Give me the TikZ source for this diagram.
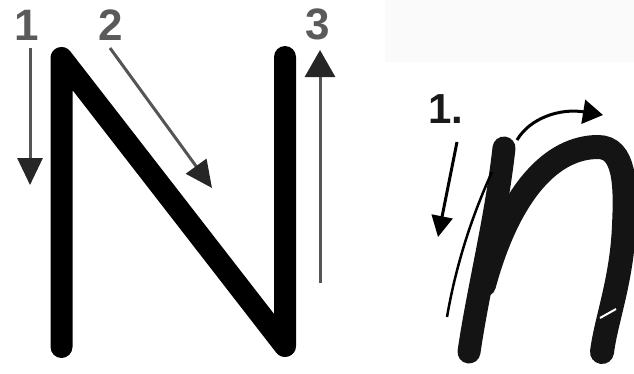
\documentclass[tikz,border=0pt]{standalone}
\usepackage{fontspec}
\setmainfont{Liberation Sans}
\usetikzlibrary{arrows.meta}
\definecolor{lblgray}{HTML}{5A5A5A}
\definecolor{shaftgray}{HTML}{555555}
\definecolor{boxgray}{HTML}{FAFAFA}
\begin{document}
\begin{tikzpicture}[x=1pt,y=-1pt,
  stroke/.style={line width=22pt,line cap=round,line join=round,black},
  guide/.style={line width=3pt,shaftgray,-{Triangle[length=27pt,width=25pt,color=black!85]}},
  cguide/.style={line width=3pt,black,-{Triangle[length=21pt,width=21pt]}},
  numlbl/.style={font=\fontsize{44}{44}\selectfont\bfseries,text=lblgray,anchor=base,inner sep=0pt},
  dotlbl/.style={font=\fontsize{42}{42}\selectfont\bfseries,text=black!90,anchor=base,inner sep=0pt}]
\useasboundingbox (0,0) rectangle (634,373);
\fill[boxgray] (385,0) rectangle (634,62);
% ---- printed N ----
\coordinate (nbl) at (61.5,347);
\coordinate (ntl) at (61.5,58);
\coordinate (nbr) at (285,346);
\coordinate (ntr) at (285,57);
\draw[stroke] (nbl) -- (ntl) -- (nbr) -- (ntr);
% labels and arrows
\node[numlbl] (l1) at (27,40) {1};
\node[numlbl] (l2) at (111,40) {2};
\node[numlbl] (l3) at (318,39) {3};
\coordinate (a1s) at (30,48);  \coordinate (a1e) at (30,185);
\coordinate (a2s) at (110,48); \coordinate (a2e) at (212,188);
\coordinate (a3s) at (320,283);\coordinate (a3e) at (320,50);
\draw[guide] (a1s) -- (a1e);
\draw[guide] (a2s) -- (a2e);
\draw[guide,-{Triangle[length=27pt,width=30pt,color=black!85]}] (a3s) -- (a3e);
% ---- cursive n ----
\coordinate (st) at (504,148);
\coordinate (sb) at (469,352);
\draw[line width=23pt,line cap=round,black!92] (st) .. controls (496,220) and (478,290) .. (sb);
\coordinate (aa) at (484,285);
\coordinate (ap) at (598,147);
\coordinate (ar) at (624,225);
\coordinate (ab) at (602,352);
\draw[line width=24pt,line cap=round,black!92] (aa) .. controls (510,190) and (553,147) .. (ap)
  .. controls (625,147) and (626,185) .. (ar) .. controls (622,280) and (606,320) .. (ab);
\coordinate (n1) at (600,318); \coordinate (n2) at (616,309);
\draw[white,line width=2pt] (n1) -- (n2);
% thin guide curve
\coordinate (g1) at (447,317); \coordinate (g2) at (492,172);
\draw[line width=2.5pt,black] (g1) .. controls (455,270) and (470,220) .. (g2);
% label and arrows
\node[dotlbl] (l4) at (446,123) {1.};
\coordinate (d1) at (457,142); \coordinate (d2) at (438,237);
\draw[cguide] (d1) -- (d2);
\coordinate (c1) at (517,140); \coordinate (c2) at (603,115);
\draw[cguide,-{Triangle[length=20pt,width=24pt]}] (c1) .. controls (530,118) and (560,108) .. (c2);
\end{tikzpicture}
\end{document}
